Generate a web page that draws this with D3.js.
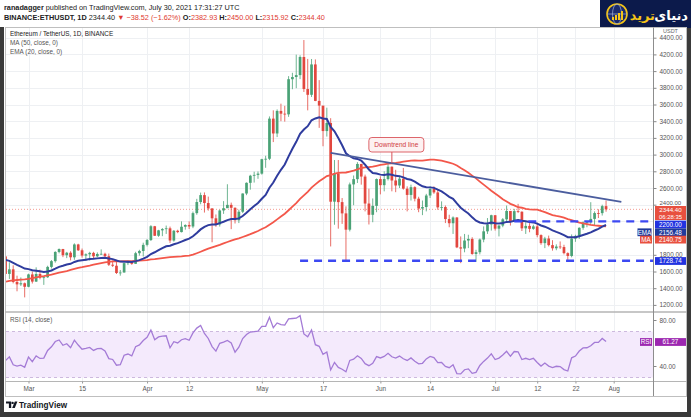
<!DOCTYPE html>
<html><head><meta charset="utf-8">
<script src="https://cdn.jsdelivr.net/npm/d3@7"></script>
<style>
html,body{margin:0;padding:0;background:#fff;}
svg{display:block;font-family:"Liberation Sans",Arial,sans-serif;}
</style></head><body>
<svg id="c" width="691" height="417"></svg>
<script>
// ---------- DATA ----------
const startDate = "2021-02-23";
// closes before the visible window (Jan 1 .. Feb 22), used only to warm up MA / EMA / RSI
const histCloses = [729,775,979,1042,1100,1208,1225,1224,1282,1262,1090,1043,1130,1218,1171,1233,1230,1257,1377,1382,1121,1236,1231,1391,1324,1357,1253,1332,1382,1377,1314,
  1369,1514,1660,1594,1718,1677,1614,1750,1770,1744,1784,1843,1812,1781,1780,1781,1848,1938,1960,1919,1935,1781];
const closes = [1571,1626,1475,1446,1459,1417,
  1565,1479,1570,1525,1531,1655,1724,1834,1869,1795,1825,1770,1924,1854,1791,1806,1823,1782,1810,1812,1783,1681,1669,1582,1588,1700,1716,1692,1819,1846,1919,
  1977,2142,2028,2093,2108,2117,1971,2088,2072,2136,2157,2139,2299,2432,2515,2420,2355,2237,2163,2331,2358,2398,2363,2214,2316,2534,2662,2747,2757,2772,
  2945,2950,3431,3253,3523,3490,3482,3903,3929,3952,4169,3785,3716,4080,3643,3587,3282,3379,2436,2773,2431,2296,2101,2643,2706,2888,2737,2414,2279,2386,2707,
  2634,2707,2855,2690,2630,2712,2592,2517,2610,2472,2354,2372,2510,2588,2547,2368,2372,2228,2178,2247,1889,1875,1971,1990,1810,1831,1983,2081,2164,2274,
  2113,2150,2225,2325,2198,2323,2316,2117,2146,2111,2140,2036,1940,1995,1916,1878,1899,1893,1820,1786,1994,2026,2123,2188,2191,2230,2300,2299,2383,2344.40];
const highs = [1782,1710,1674,1550,1529,1468,
  1574,1600,1650,1622,1546,1669,1737,1843,1876,1871,1835,1843,1937,1932,1875,1817,1836,1836,1829,1865,1825,1815,1732,1740,1618,1703,1731,1725,1836,1860,1945,
  1990,2155,2146,2099,2120,2150,2138,2097,2100,2200,2165,2200,2318,2470,2545,2547,2497,2359,2283,2341,2443,2645,2425,2368,2341,2536,2667,2758,2795,2798,
  2950,2986,3457,3530,3541,3610,3584,3940,3980,4197,4189,4372,4146,4145,4140,3892,3420,3562,3436,2935,2935,2480,2380,2665,2750,2910,2890,2760,2592,2475,2714,
  2740,2800,2890,2858,2818,2745,2840,2620,2640,2620,2495,2450,2530,2620,2620,2580,2440,2390,2280,2260,2250,2020,2050,2040,2010,1860,1995,2140,2240,2280,
  2275,2155,2240,2390,2325,2350,2410,2320,2190,2180,2160,2185,2045,2015,2030,1975,1925,1960,1920,1830,2044,2040,2130,2200,2200,2430,2320,2345,2400,2450];
const lows = [1371,1511,1458,1363,1427,1290,
  1411,1456,1475,1506,1440,1524,1636,1706,1818,1772,1760,1733,1740,1846,1766,1726,1731,1758,1770,1800,1765,1666,1654,1570,1550,1587,1677,1680,1690,1790,1780,
  1900,1965,2025,2015,2023,2050,1942,1958,2059,2068,2101,2109,2119,2280,2405,2306,2329,1950,2135,2138,2290,2365,2107,2175,2180,2300,2514,2580,2665,2710,
  2760,2842,2934,3150,3210,3400,3395,3452,3783,3795,3904,3750,3530,3690,3640,3320,3100,3216,1900,2160,2113,2170,1728.74,2080,2394,2660,2640,2320,2163,2190,2310,
  2524,2560,2690,2560,2550,2600,2580,2320,2450,2440,2310,2275,2320,2480,2530,2340,2330,2180,2130,2050,1880,1700,1830,1880,1800,1715,1805,1950,2050,2090,
  2090,2020,2130,2190,2150,2200,2300,2085,2050,2070,2100,2010,1920,1880,1900,1850,1855,1870,1805,1718,1770,1955,1990,2100,2130,2170,2150,2240,2270,2315.92];
const firstOpen = 1781;        // open of the first visible bar (later opens = prior close)
const lastOpen = 2382.93;

const tickDates  = ["2021-03-01","2021-03-15","2021-04-01","2021-04-12","2021-05-01","2021-05-17","2021-06-01","2021-06-14","2021-07-01","2021-07-12","2021-07-22","2021-08-01"];
const tickLabels = ["Mar","15","Apr","12","May","17","Jun","14","Jul","12","22","Aug"];
const priceTicks = [1200,1400,1600,1800,2000,2200,2400,2600,2800,3000,3200,3400,3600,3800,4000,4200,4400];
const rsiTicks = [40,80];
const supportLevels = [{price:2200, from:"2021-07-06"},{price:1728.74, from:"2021-05-11"}];
const trendLine = [["2021-05-19",3020],["2021-08-03",2435]];
const calloutAt = ["2021-06-04", 2910];

// ---------- SETUP ----------
const svg = d3.select("#c");
const W=691,H=417;
const L=6, R=653;           // plot x extent
const PT=28, PB=311;        // price pane
const RT=313, RB=381;       // rsi pane
const parse = d3.utcParse("%Y-%m-%d");
const day = 864e5;
const t0 = parse(startDate);
const dates = closes.map((c,i)=>new Date(+t0 + i*day));
const opens = closes.map((c,i)=> i===0 ? firstOpen : (i===closes.length-1 ? lastOpen : closes[i-1]));

const x = d3.scaleUtc().domain([parse("2021-03-01"), parse("2021-08-01")]).range([28.5, 613.7]);
const y = d3.scaleLinear().domain([1200,4400]).range([304.9,37.7]);
const ry = d3.scaleLinear().domain([40,80]).range([366,320]);

// indicators (computed from closes)
const all = histCloses.concat(closes);
const nH = histCloses.length;
function sma(arr,n){return arr.map((v,i)=> i<n-1?null: d3.mean(arr.slice(i-n+1,i+1)));}
function ema(arr,n){const k=2/(n+1);let e=null;return arr.map((v,i)=>{e = e===null? v : v*k+e*(1-k);return e;});}
function rsi(arr,n){let ag=0,al=0;const out=arr.map(()=>null);
  for(let i=1;i<arr.length;i++){const ch=arr[i]-arr[i-1];const g=Math.max(ch,0),l=Math.max(-ch,0);
    if(i<=n){ag+=g/n;al+=l/n; if(i===n) out[i]=100-100/(1+ag/al);}
    else{ag=(ag*(n-1)+g)/n;al=(al*(n-1)+l)/n;out[i]=al===0?100:100-100/(1+ag/al);} }
  return out;}
const ma50 = sma(all,50).slice(nH);
const ema20 = ema(all,20).slice(nH);
const rsi14 = rsi(all,14).slice(nH);

// ---------- FRAME ----------
svg.append("rect").attr("width",W).attr("height",H).attr("fill","#3a3a3a");
svg.append("rect").attr("x",4).attr("y",0).attr("width",683).attr("height",412).attr("fill","#fff");
svg.append("rect").attr("x",0).attr("y",0).attr("width",600).attr("height",27).attr("fill","#fff");

// header
const h1 = svg.append("text").attr("x",4).attr("y",10).attr("font-size",7.3).attr("fill","#222");
h1.append("tspan").attr("font-weight","bold").text("ranadagger");
h1.append("tspan").text(" published on TradingView.com, July 30, 2021 17:31:27 UTC");
const h2 = svg.append("text").attr("x",4).attr("y",20).attr("font-size",7.3).attr("fill","#222");
h2.append("tspan").attr("font-weight","bold").text("BINANCE:ETHUSDT, 1D");
h2.append("tspan").text(" 2344.40 ");
h2.append("tspan").attr("fill","#e0392f").text("▼ −38.52 (−1.62%) ");
[["O:","2382.93"],["H:","2450.00"],["L:","2315.92"],["C:","2344.40"]].forEach(([a,b])=>{
  h2.append("tspan").attr("font-weight","bold").text(a);
  h2.append("tspan").attr("fill","#e0392f").text(b+" ");
});

// logo
svg.append("rect").attr("x",600).attr("y",0).attr("width",91).attr("height",28).attr("fill","#0c1a4b");
const lg = svg.append("g");
lg.append("circle").attr("cx",617).attr("cy",14).attr("r",10).attr("fill","#1b2a6b").attr("stroke","#f5c518").attr("stroke-width",1.6);
lg.append("ellipse").attr("cx",617).attr("cy",14).attr("rx",4.5).attr("ry",10).attr("fill","none").attr("stroke","#9fb0d8").attr("stroke-width",0.7);
lg.append("line").attr("x1",607).attr("x2",627).attr("y1",14).attr("y2",14).attr("stroke","#9fb0d8").attr("stroke-width",0.7);
[[612,3],[615,5],[618,7],[621,9]].forEach(([bx,bh])=>lg.append("rect").attr("x",bx).attr("y",20-bh).attr("width",2).attr("height",bh).attr("fill","#f5c518"));
svg.append("text").attr("x",688).attr("y",20).attr("text-anchor","end").attr("font-family","DejaVu Sans").attr("font-weight","bold").attr("font-size",13).attr("fill","#fff").text("دنیای");
svg.append("text").attr("x",655).attr("y",20).attr("text-anchor","end").attr("font-family","DejaVu Sans").attr("font-weight","bold").attr("font-size",13).attr("fill","#f5c518").text("ترید");

// chart border
svg.append("rect").attr("x",5.5).attr("y",27.5).attr("width",681).attr("height",369).attr("fill","none").attr("stroke","#bfbfbf");

// gridlines
const grid = svg.append("g");
priceTicks.forEach(p=>grid.append("line").attr("x1",L).attr("x2",R).attr("y1",Math.round(y(p))+0.5).attr("y2",Math.round(y(p))+0.5).attr("stroke","#eef0f3"));
tickDates.forEach(d=>{const xx=Math.round(x(parse(d)))+0.5;
  grid.append("line").attr("x1",xx).attr("x2",xx).attr("y1",PT).attr("y2",RB).attr("stroke","#eef0f3");});

// clip paths
const defs = svg.append("defs");
defs.append("clipPath").attr("id","cp").append("rect").attr("x",L).attr("y",PT).attr("width",R-L).attr("height",PB-PT);
defs.append("clipPath").attr("id","cr").append("rect").attr("x",L).attr("y",RT).attr("width",R-L).attr("height",RB-RT);

const pg = svg.append("g").attr("clip-path","url(#cp)");

// current price dotted
pg.append("line").attr("x1",L).attr("x2",R).attr("y1",y(2344.40)).attr("y2",y(2344.40)).attr("stroke","#f39a92").attr("stroke-dasharray","1,2");

// candles
const UP="#4aa276", DN="#e2473f";
const cg = pg.append("g");
closes.forEach((c,i)=>{
  const o=opens[i], xx=x(dates[i]), col = c>=o?UP:DN;
  cg.append("line").attr("x1",xx).attr("x2",xx).attr("y1",y(highs[i])).attr("y2",y(lows[i])).attr("stroke",col).attr("stroke-width",0.8);
  const top=y(Math.max(o,c)), bot=y(Math.min(o,c));
  cg.append("rect").attr("x",xx-1.35).attr("width",2.7).attr("y",top).attr("height",Math.max(0.8,bot-top)).attr("fill",col);
});

// MA & EMA
const line = d3.line().defined(d=>d[1]!=null).x(d=>x(d[0])).y(d=>y(d[1]));
pg.append("path").attr("d",line(dates.map((d,i)=>[d,ma50[i]]))).attr("fill","none").attr("stroke","#f3574a").attr("stroke-width",1.8);
pg.append("path").attr("d",line(dates.map((d,i)=>[d,ema20[i]]))).attr("fill","none").attr("stroke","#2f3c9e").attr("stroke-width",2);

// support dashed lines
supportLevels.forEach(s=>{
  pg.append("line").attr("x1",x(parse(s.from))).attr("x2",R).attr("y1",y(s.price)).attr("y2",y(s.price))
    .attr("stroke","#3c48f2").attr("stroke-width",2.4).attr("stroke-dasharray","8,6");
});

// trend line
pg.append("path").attr("d",d3.line().x(d=>x(parse(d[0]))).y(d=>y(d[1]))(trendLine)).attr("stroke","#4b5d9e").attr("stroke-width",1.8).attr("fill","none");

// callout
const cx = x(parse(calloutAt[0]));
const tY = y(trendLine[0][1] + (trendLine[1][1]-trendLine[0][1])*(parse(calloutAt[0])-parse(trendLine[0][0]))/(parse(trendLine[1][0])-parse(trendLine[0][0])));
pg.append("line").attr("x1",cx).attr("x2",cx).attr("y1",152).attr("y2",tY).attr("stroke","#d9545a").attr("stroke-width",1);
pg.append("rect").attr("x",cx-23).attr("y",137.5).attr("width",55).attr("height",14.5).attr("rx",3).attr("fill","#fdf1f1").attr("stroke","#d9545a").attr("stroke-width",0.9);
pg.append("text").attr("x",cx+4.5).attr("y",147.3).attr("text-anchor","middle").attr("font-size",6.6).attr("fill","#d0393e").text("Downtrend line");

// legend
const lgd = svg.append("g").attr("font-size",6.4).attr("fill","#333");
lgd.append("text").attr("x",10).attr("y",36).attr("fill","#222").text("Ethereum / TetherUS, 1D, BINANCE");
lgd.append("text").attr("x",10).attr("y",45).attr("fill","#555").text("MA (50, close, 0)");
lgd.append("text").attr("x",10).attr("y",54).attr("fill","#555").text("EMA (20, close, 0)");

// pane separators and axis line
svg.append("line").attr("x1",5).attr("x2",687).attr("y1",312).attr("y2",312).attr("stroke","#b5b5b5").attr("stroke-width",1.5);
svg.append("line").attr("x1",5).attr("x2",687).attr("y1",381.5).attr("y2",381.5).attr("stroke","#b5b5b5").attr("stroke-width",1);
svg.append("line").attr("x1",653.5).attr("x2",653.5).attr("y1",27.5).attr("y2",396).attr("stroke","#8d8d8d").attr("stroke-width",1);

// price axis
const ya = svg.append("g").attr("transform","translate(653.5,0)")
  .call(d3.axisRight(y).tickValues(priceTicks.filter(p=>p!==2200&&p!==2000)).tickFormat(d3.format(".2f")).tickSize(3).tickPadding(3));
ya.select(".domain").remove();
ya.selectAll("line").attr("stroke","#888");
ya.selectAll("text").attr("font-size",6.4).attr("fill","#555").attr("font-family","Liberation Sans, Arial, sans-serif");
// nudge the 2400 label clear of the last-price tag
ya.selectAll(".tick").filter(d=>d===2400).select("text").attr("dy","-0.05em").attr("font-size",6);
svg.append("text").attr("x",663).attr("y",33).attr("font-size",5.5).attr("fill","#666").text("USDT");

// RSI pane
const rg = svg.append("g").attr("clip-path","url(#cr)");
rg.append("rect").attr("x",L).attr("width",R-L).attr("y",ry(70)).attr("height",ry(30)-ry(70)).attr("fill","#f4eafc");
[70,30].forEach(v=>rg.append("line").attr("x1",L).attr("x2",R).attr("y1",ry(v)).attr("y2",ry(v)).attr("stroke","#cdb9de").attr("stroke-dasharray","3,3"));
rg.append("path").attr("d",d3.line().defined(d=>d[1]!=null).x(d=>x(d[0])).y(d=>ry(d[1]))(dates.map((d,i)=>[d,rsi14[i]])))
  .attr("fill","none").attr("stroke","#a47bd6").attr("stroke-width",1.3);
svg.append("text").attr("x",10).attr("y",322).attr("font-size",6.4).attr("fill","#555").text("RSI (14, close)");
const ra = svg.append("g").attr("transform","translate(653.5,0)")
  .call(d3.axisRight(ry).tickValues(rsiTicks).tickFormat(d3.format(".2f")).tickSize(3).tickPadding(3));
ra.select(".domain").remove();
ra.selectAll("line").attr("stroke","#888");
ra.selectAll("text").attr("font-size",6.4).attr("fill","#555");

// time axis
const xa = svg.append("g").attr("transform","translate(0,381.5)")
  .call(d3.axisBottom(x).tickValues(tickDates.map(parse)).tickFormat((d,i)=>tickLabels[i]).tickSize(2).tickPadding(3));
xa.select(".domain").remove();
xa.selectAll("line").attr("stroke","#999");
xa.selectAll("text").attr("font-size",6.4).attr("fill","#555");

// value labels on right axis
function box(x0,w,yc,h,fill,txt,col){
  svg.append("rect").attr("x",x0).attr("y",yc-h/2).attr("width",w).attr("height",h).attr("fill",fill);
  if(txt) svg.append("text").attr("x",x0+w/2).attr("y",yc+2.2).attr("text-anchor","middle").attr("font-size",6.3).attr("fill",col||"#fff").text(txt);
}
const lastC = closes[closes.length-1];
svg.append("rect").attr("x",655).attr("y",206).attr("width",31).attr("height",14).attr("fill","#e8503f");
svg.append("text").attr("x",670.5).attr("y",212.4).attr("text-anchor","middle").attr("font-size",6.2).attr("fill","#fff").text(d3.format(".2f")(lastC));
svg.append("text").attr("x",670.5).attr("y",219).attr("text-anchor","middle").attr("font-size",5.9).attr("fill","#fff").text("06:28:35");
box(655,31,224.5,7.8,"#2233e0",d3.format(".2f")(supportLevels[0].price));
box(637.5,14,232.3,7.8,"#1f3a9c","EMA");
box(655,31,232.3,7.8,"#1f3a9c",d3.format(".2f")(ema20[ema20.length-1]));
box(640,12,239.6,7.8,"#e8503f","MA");
box(655,31,239.6,7.8,"#e8503f",d3.format(".2f")(ma50[ma50.length-1]));
box(655,31,261,7.8,"#2233e0",d3.format(".2f")(supportLevels[1].price));
box(640,12,342,7.8,"#9c27b0","RSI");
box(655,31,342,7.8,"#9c27b0",d3.format(".2f")(rsi14[rsi14.length-1]));

// TradingView logo
const tv = svg.append("g").attr("fill","#131722");
tv.append("path").attr("d","M6 401.5 h5.2 v6.5 h-2.3 v-4.4 h-2.9 z");
tv.append("circle").attr("cx",12.6).attr("cy",402.9).attr("r",1.2);
tv.append("path").attr("d","M14.8 401.5 h2.6 l-2.6 6.5 h-2.6 z");
svg.append("text").attr("x",19).attr("y",408).attr("font-size",8.2).attr("font-weight","bold").attr("fill","#131722").text("TradingView");
</script>
</body></html>
